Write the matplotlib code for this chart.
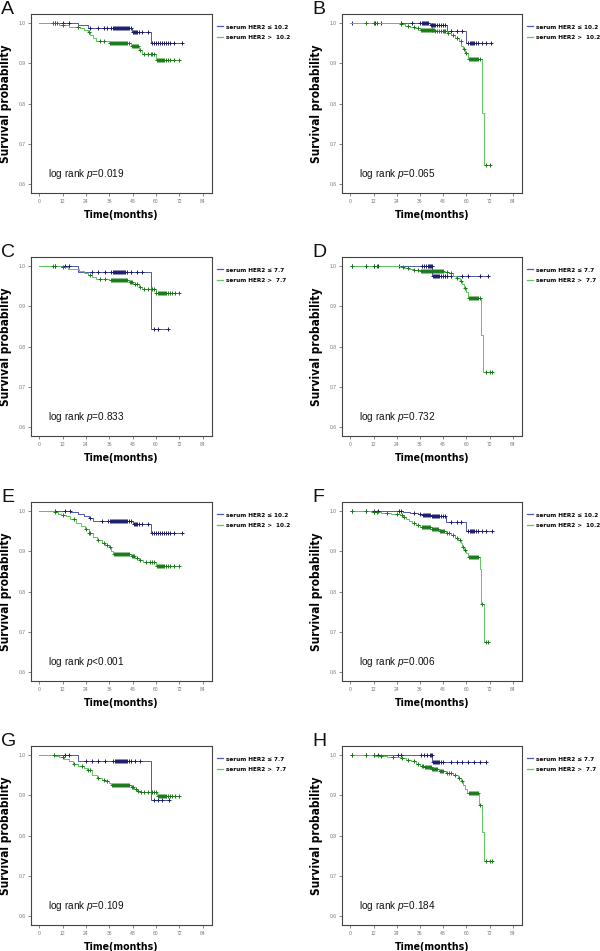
import numpy as np
import matplotlib
matplotlib.use("Agg")
import matplotlib.pyplot as plt
from matplotlib import font_manager
from matplotlib.font_manager import FontProperties
from matplotlib.textpath import TextPath
from matplotlib.lines import Line2D

# ---------------- data ----------------
panel_names = ["A", "B", "C", "D", "E", "F", "G", "H"]
pvals = ["p=0.019", "p=0.065", "p=0.833", "p=0.732", "p<0.001", "p=0.006", "p=0.109", "p=0.184"]
cutoffs = ["10.2", "10.2", "7.7", "7.7", "10.2", "10.2", "7.7", "7.7"]
xticks = [0, 12, 24, 36, 48, 60, 72, 84]
yticks = [0.6, 0.7, 0.8, 0.9, 1.0]

# A
a_low_t = [20, 25, 47.5, 57.5]
a_low_s = [0.995, 0.989, 0.9775, 0.952]
a_low_c = [8, 12, 15, 26, 30, 33, 35, 37, 38, 38.5, 39, 39.5, 40, 40.5, 41, 41.5, 42, 42.5, 43, 43.5, 44,
           44.5, 45, 45.5, 46, 47, 48, 48.5, 49, 49.5, 50, 51, 53, 56, 58, 59, 60, 61, 62, 63, 64, 65, 66,
           67, 69.5, 73.5]
a_high_t = [10, 15, 21, 23, 25, 26, 27.5, 29, 36, 47, 51, 53, 60]
a_high_s = [0.996, 0.991, 0.987, 0.983, 0.978, 0.971, 0.963, 0.955, 0.950, 0.943, 0.934, 0.924, 0.909]
a_high_c = [7, 8, 9, 12, 20, 25.5, 31, 33, 36.5, 37, 37.5, 38, 38.5, 39, 39.5, 40, 40.5, 41, 41.5, 42,
            42.5, 43, 43.5, 44, 44.5, 45, 46, 47.5, 48, 48.5, 49, 49.5, 50, 50.5, 52, 54, 56, 57.5, 58, 59,
            60.5, 61, 61.5, 62, 62.5, 63, 63.5, 64, 65, 66, 67, 69, 72]

# B
b_low_t = [41, 50, 60]
b_low_s = [0.996, 0.980, 0.952]
b_low_c = [1, 13, 16, 26, 32, 36, 37, 37.5, 38, 38.5, 39, 39.5, 40, 41.5, 42, 42.5, 43, 43.5, 44, 45, 46,
           47, 48, 49, 52, 55, 58, 61, 62, 62.5, 63, 63.5, 64, 65, 66, 68, 70, 73]
b_high_t = [25.7, 28.3, 31, 33.5, 36, 44, 50, 52, 54, 56, 57.5, 58.5, 59.5, 61, 68, 69]
b_high_s = [0.997, 0.993, 0.990, 0.988, 0.984, 0.980, 0.977, 0.970, 0.963, 0.955, 0.944, 0.935, 0.925,
            0.910, 0.778, 0.648]
b_high_c = [8, 12, 14, 26, 30, 33, 35, 36.5, 37, 37.5, 38, 38.5, 39, 39.5, 40, 40.5, 41, 41.5, 42, 42.5,
            43, 43.5, 44, 45, 46, 47, 48, 48.5, 49, 50.5, 53, 55, 57, 59, 60, 61.5, 62, 62.5, 63, 63.5, 64,
            64.5, 65, 65.5, 66, 67, 70, 72]

# C
c_low_t = [20, 57.5]
c_low_s = [0.985, 0.843]
c_low_c = [8, 13, 15, 27, 30, 34, 37, 38, 38.5, 39, 39.5, 40, 40.5, 41, 41.5, 42, 42.5, 43, 43.5, 44, 45,
           47, 50, 53, 59, 61, 66]
c_high_t = [11, 14.5, 20.5, 23, 25, 27, 29, 36, 46, 48, 51, 53, 60]
c_high_s = [0.998, 0.994, 0.989, 0.984, 0.979, 0.973, 0.969, 0.966, 0.961, 0.956, 0.949, 0.943, 0.933]
c_high_c = [7, 8, 12, 26, 31, 34, 37, 37.5, 38, 38.5, 39, 39.5, 40, 40.5, 41, 41.5, 42, 42.5, 43, 43.5,
            44, 44.5, 45, 46.5, 47, 47.5, 49, 50, 52, 54, 56, 58, 59, 60, 61, 61.5, 62, 62.5, 63, 63.5,
            64, 64.5, 65, 66, 67, 68, 70, 72]

# D
d_low_t = [42.5]
d_low_s = [0.977]
d_low_c = [1, 8, 12.5, 14.5, 25, 37, 38, 39, 40, 40.5, 41, 41.5, 42, 43, 43.5, 44, 44.5, 45, 45.5, 46,
           47, 48, 49, 50, 52, 58, 61, 67, 71]
d_high_t = [25.5, 28, 30.5, 33, 36, 48.5, 51, 53, 54.5, 56.5, 58, 59, 60, 61, 67.5, 68.8]
d_high_s = [0.998, 0.995, 0.992, 0.990, 0.989, 0.986, 0.982, 0.976, 0.970, 0.964, 0.956, 0.947, 0.937,
            0.922, 0.829, 0.737]
d_high_c = [1, 8, 12, 14, 27, 30, 33, 35, 36.5, 37, 37.5, 38, 38.5, 39, 39.5, 40, 40.5, 41, 41.5, 42,
            42.5, 43, 43.5, 44, 44.5, 45, 45.5, 46, 46.5, 47, 47.5, 48, 50, 52, 55, 57, 59.5, 61.5, 62,
            62.5, 63, 63.5, 64, 64.5, 65, 65.5, 66, 67, 70, 72, 73.5]

# E
e_low_t = [16.5, 20, 23, 25.5, 27.5, 48, 57.5]
e_low_s = [0.9975, 0.993, 0.987, 0.982, 0.977, 0.968, 0.947]
e_low_c = [8, 13, 16, 26, 32, 35.5, 36.5, 37, 37.5, 38, 38.5, 39, 39.5, 40, 40.5, 41, 41.5, 42, 42.5, 43,
           43.5, 44, 44.5, 45, 46, 47, 48.5, 49, 49.5, 50, 51, 53, 56, 58, 59, 60, 61, 62, 63, 64, 65, 66,
           67, 69.5, 73.5]
e_high_t = [7.5, 9.5, 11, 13.5, 16, 19, 21.5, 23.5, 25.5, 27.5, 29.5, 32, 34, 36, 37, 38, 47, 49, 51.5,
            53.5, 60]
e_high_s = [0.997, 0.994, 0.991, 0.987, 0.980, 0.972, 0.963, 0.955, 0.945, 0.937, 0.928, 0.922, 0.916,
            0.910, 0.900, 0.893, 0.889, 0.885, 0.879, 0.874, 0.864]
e_high_c = [8, 12, 18, 24, 25.5, 26, 30, 33, 35, 36.5, 38.5, 39, 39.5, 40, 40.5, 41, 41.5, 42, 42.5, 43,
            43.5, 44, 44.5, 45, 45.5, 46, 47.5, 48, 48.5, 50, 52, 55, 57, 58, 59, 60.5, 61, 61.5, 62,
            62.5, 63, 63.5, 64, 65, 66, 67, 69, 72]

# F
f_low_t = [27, 31, 35, 37, 42, 49.5, 60]
f_low_s = [0.998, 0.996, 0.994, 0.991, 0.987, 0.973, 0.950]
f_low_c = [1, 8, 12.5, 14.5, 25, 26, 33, 36, 37.5, 38, 38.5, 39, 39.5, 40, 40.5, 41, 42.5, 43, 43.5, 44,
           44.5, 45, 45.5, 46, 47, 48, 49, 52, 55, 57, 61, 62, 62.5, 63, 63.5, 64, 65, 66, 68, 70, 73.5]
f_high_t = [10.5, 16, 21, 25.5, 27, 29, 30.5, 32, 34, 36, 42, 46, 49.5, 52, 54, 55.5, 57, 58, 59, 60,
            61, 67, 67.8, 69]
f_high_s = [0.998, 0.995, 0.992, 0.990, 0.986, 0.980, 0.975, 0.970, 0.965, 0.961, 0.955, 0.951, 0.945,
            0.940, 0.934, 0.928, 0.920, 0.912, 0.903, 0.895, 0.887, 0.857, 0.770, 0.675]
f_high_c = [1, 8, 12, 14, 19, 24, 26.5, 28, 33, 35, 37, 37.5, 38, 38.5, 39, 39.5, 40, 40.5, 41, 42.5,
            43, 43.5, 44, 44.5, 45, 45.5, 46.5, 47, 47.5, 48, 48.5, 50, 51, 53, 55, 56.5, 58.5, 59.5,
            61.5, 62, 62.5, 63, 63.5, 64, 64.5, 65, 65.5, 66, 68, 70, 71]

# G
g_low_t = [20, 57.5]
g_low_s = [0.985, 0.888]
g_low_c = [13, 15, 24, 27, 30, 34, 38, 39, 39.5, 40, 40.5, 41, 41.5, 42, 42.5, 43, 43.5, 44, 44.5, 45,
           46, 47, 49, 52, 59, 61, 63, 66.5]
g_high_t = [8, 10, 12.5, 15, 17.5, 20, 23, 24.5, 27, 29.5, 32, 34, 36, 37, 47, 48.5, 50, 52, 60.5]
g_high_s = [0.997, 0.995, 0.991, 0.985, 0.979, 0.974, 0.969, 0.963, 0.952, 0.944, 0.938, 0.935, 0.931,
            0.925, 0.920, 0.916, 0.912, 0.908, 0.899]
g_high_c = [7.5, 12, 18, 22, 25, 26, 30, 33, 35, 37.5, 38, 38.5, 39, 39.5, 40, 40.5, 41, 41.5, 42, 42.5,
            43, 43.5, 44, 44.5, 45, 45.5, 46, 47.5, 48, 49.5, 50.5, 52.5, 54, 56, 58, 59, 60, 61, 61.5,
            62, 62.5, 63, 63.5, 64, 64.5, 65, 66, 67, 68, 70, 72]

# H
h_low_t = [42.5]
h_low_s = [0.9825]
h_low_c = [1, 8, 12.5, 14.5, 24.5, 26, 36.5, 38, 39.5, 41, 41.5, 42, 43, 43.5, 44, 44.5, 45, 45.5, 46,
           47, 48, 52, 55, 58, 61, 64, 67, 70]
h_high_t = [13, 19, 25.5, 29, 31.5, 34, 36, 38, 42, 46, 49.5, 53, 55.5, 57, 58.5, 59.5, 60.5, 66.8, 68,
            69]
h_high_s = [0.998, 0.996, 0.993, 0.989, 0.985, 0.979, 0.974, 0.971, 0.967, 0.962, 0.956, 0.950, 0.943,
            0.935, 0.925, 0.915, 0.905, 0.877, 0.809, 0.737]
h_high_c = [1, 8, 12, 16, 22, 26.5, 30, 33, 35, 37, 37.5, 38.5, 39, 39.5, 40, 40.5, 41, 41.5, 42.5, 43,
            43.5, 44, 44.5, 45, 46.5, 47, 47.5, 48, 50, 51, 52, 54, 56, 58, 61.5, 62, 62.5, 63, 63.5, 64,
            64.5, 65, 65.5, 66, 67, 70, 72, 73.5]

low_curves = [(a_low_t, a_low_s, a_low_c), (b_low_t, b_low_s, b_low_c), (c_low_t, c_low_s, c_low_c),
              (d_low_t, d_low_s, d_low_c), (e_low_t, e_low_s, e_low_c), (f_low_t, f_low_s, f_low_c),
              (g_low_t, g_low_s, g_low_c), (h_low_t, h_low_s, h_low_c)]
high_curves = [(a_high_t, a_high_s, a_high_c), (b_high_t, b_high_s, b_high_c), (c_high_t, c_high_s, c_high_c),
               (d_high_t, d_high_s, d_high_c), (e_high_t, e_high_s, e_high_c), (f_high_t, f_high_s, f_high_c),
               (g_high_t, g_high_s, g_high_c), (h_high_t, h_high_s, h_high_c)]

# ---------------- fonts ----------------
# look for a condensed bold face, the reference labels use a narrow gothic
cond_prop = None
for f in font_manager.fontManager.ttflist:
    if ("Narrow" in f.name or "Condensed" in f.name or f.stretch in ("condensed", "semi-condensed")) \
            and f.weight in ("bold", 700, "semibold", 600):
        cond_prop = FontProperties(fname=f.fname)
        break
if cond_prop is None:
    cond_prop = FontProperties(family="DejaVu Sans", weight="bold")

plt.rcParams["font.family"] = ["Liberation Sans", "DejaVu Sans"]
plt.rcParams["mathtext.fontset"] = "custom"
plt.rcParams["mathtext.it"] = "Liberation Sans:italic"
plt.rcParams["mathtext.rm"] = "Liberation Sans"


def fit_size(s, prop, target_px):
    # font size (pt) that gives a text of target_px width at 100 dpi
    w = TextPath((0, 0), s, size=10, prop=prop).get_extents().width
    return target_px * 0.72 / (w / 10.0)


BLUE_LINE = "#5058b0"
BLUE_MARK = "#1c1c6c"
GREEN_LINE = "#5ec85e"
GREEN_MARK = "#1a7a1a"


def km_plot(ax, times, surv, cens, lc, mc):
    times = list(times)
    surv = list(surv)
    end = max(max(cens), times[-1])
    xs = [0] + times + [end]
    ys = [1.0] + surv + [surv[-1]]
    ax.step(xs, ys, where="post", color=lc, lw=0.7)
    # survival value at each censor time
    idx = np.searchsorted(np.array(times), np.array(cens), side="right")
    lev = np.array([1.0] + surv)[idx]
    ax.plot(cens, lev, linestyle="none", marker="+", ms=3.2, mew=0.7, color=mc)


fig = plt.figure(figsize=(6, 9.51), dpi=100)
W, H = 600.0, 951.0
col_left = [31, 342]
col_width = [181, 180]
row_top = [14, 257, 502, 746]
ax_h = 179

xl_size = fit_size("Time(months)", cond_prop, 74)
yl_size = fit_size("Survival probability", cond_prop, 118)
lg_size = fit_size("serum HER2 \u2264 10.2", cond_prop, 62)
lr_size = fit_size("log rank p=0.019", FontProperties(family="Liberation Sans"), 74)

for i, name in enumerate(panel_names):
    r, c = i // 2, i % 2
    left = col_left[c] / W
    bottom = 1 - (row_top[r] + ax_h) / H
    ax = fig.add_axes([left, bottom, col_width[c] / W, ax_h / H])

    t, s, cc = low_curves[i]
    km_plot(ax, t, s, cc, BLUE_LINE, BLUE_MARK)
    t, s, cc = high_curves[i]
    km_plot(ax, t, s, cc, GREEN_LINE, GREEN_MARK)

    ax.set_xlim(-4.3, 88.8)
    ax.set_ylim(0.578, 1.023)
    ax.set_xticks(xticks)
    ax.set_yticks(yticks)
    ax.set_yticklabels(["%.1f" % v for v in yticks])
    ax.tick_params(labelsize=3.6, labelcolor="#777777", length=2, width=0.5, color="#555555", pad=2)
    for sp in ax.spines.values():
        sp.set_color("#444444")
        sp.set_linewidth(0.8)

    xp = cond_prop.copy()
    xp.set_size(xl_size)
    ax.set_xlabel("Time(months)", fontproperties=xp)
    ax.xaxis.set_label_coords(0.5, -21.0 / ax_h - 0.005, transform=ax.transAxes)
    ax.xaxis.label.set_va("center")
    yp = cond_prop.copy()
    yp.set_size(yl_size)
    ax.set_ylabel("Survival probability", fontproperties=yp)
    ax.yaxis.set_label_coords(-25.0 / col_width[c], 0.5)
    ax.yaxis.label.set_va("center")

    ax.text(0.095, 0.107, r"log rank $\it{p}$" + pvals[i][1:], transform=ax.transAxes,
            fontsize=lr_size, va="center", ha="left", color="#111111")

    handles = [Line2D([], [], color=BLUE_LINE, lw=0.9), Line2D([], [], color=GREEN_LINE, lw=0.9)]
    labels = ["serum HER2 \u2264 " + cutoffs[i], "serum HER2 >  " + cutoffs[i]]
    lp = cond_prop.copy()
    lp.set_size(lg_size)
    ax.legend(handles, labels, loc="upper left", bbox_to_anchor=(1.005, 0.965), frameon=False,
              prop=lp, handlelength=1.0, handletextpad=0.5, labelspacing=0.8, borderaxespad=0.2)

    fig.text((col_left[c] - 31 + 1) / W, 1 - (row_top[r] - 13) / H, name, fontsize=14,
             ha="left", va="top", color="#111111")

fig.savefig("out.png", dpi=100)
